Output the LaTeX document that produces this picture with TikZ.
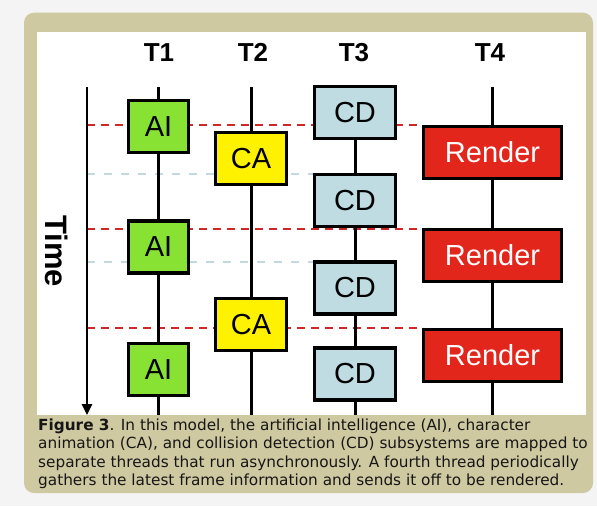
\documentclass[tikz,border=0pt]{standalone}
\usepackage{fontspec}
\setmainfont{Liberation Sans}
\newfontfamily\capfont{DejaVu Sans}
\usetikzlibrary{arrows.meta}
\definecolor{bgray}{HTML}{F4F4F4}
\definecolor{tanframe}{HTML}{CFC9A1}
\definecolor{aigreen}{HTML}{88E234}
\definecolor{cayellow}{HTML}{FFF200}
\definecolor{cdblue}{HTML}{BFDCE2}
\definecolor{renderred}{HTML}{E3261C}
\definecolor{reddash}{HTML}{D02626}
\definecolor{bluedash}{HTML}{C2D9DF}
\definecolor{captext}{HTML}{161616}
\begin{document}
\begin{tikzpicture}[x=1pt,y=-1pt,
  box/.style={draw=black, line width=3.4pt, inner sep=0pt, minimum height=52pt,
    font=\fontsize{29}{29}\selectfont},
  aibox/.style={box, fill=aigreen, minimum width=60pt},
  cabox/.style={box, fill=cayellow, minimum width=71pt},
  cdbox/.style={box, fill=cdblue, minimum width=81pt},
  renderbox/.style={box, fill=renderred, minimum width=138pt, text=white},
  thread/.style={line width=3pt, draw=black},
  reddashed/.style={draw=reddash, line width=2.7pt, dash pattern=on 8pt off 6pt},
  bluedashed/.style={draw=bluedash, line width=2.2pt, dash pattern=on 8pt off 9pt},
  tlabel/.style={anchor=base, inner sep=0pt, font=\bfseries\fontsize{26}{26}\selectfont},
  captionline/.style={anchor=base west, inner sep=0pt, text=captext,
    font=\capfont\fontsize{15.3}{15.3}\selectfont}
]
% background and frame
\fill[bgray] (0,0) rectangle (597,506);
\useasboundingbox (0,0) rectangle (597,506);
\fill[tanframe, rounded corners=10pt] (24,12.7) rectangle (593,493);
\fill[white] (37,32) rectangle (586,415);

% boxes (named; redrawn on top later)
\path
  (158.5,126.5) node[aibox] (ai1) {AI}
  (158.5,247)   node[aibox] (ai2) {AI}
  (158.5,369.5) node[aibox] (ai3) {AI}
  (251,158.5)   node[cabox] (ca1) {CA}
  (251,324.5)   node[cabox] (ca2) {CA}
  (355,112.5)   node[cdbox] (cd1) {CD}
  (355,200.5)   node[cdbox] (cd2) {CD}
  (355,288)     node[cdbox] (cd3) {CD}
  (355,374)     node[cdbox] (cd4) {CD}
  (492.5,152.5) node[renderbox] (r1) {Render}
  (492.5,255.5) node[renderbox] (r2) {Render}
  (492.5,355.5) node[renderbox] (r3) {Render};

% time axis coordinates
\coordinate (ta) at (87,87);
\coordinate (tb) at (87,415);
\coordinate (rd1) at (87,125);
\coordinate (rd2) at (87,229);
\coordinate (rd3) at (87,328);
\coordinate (bd1) at (87,174);
\coordinate (bd2) at (87,262);

% dashed sync lines
\draw[reddashed] (rd1) -- (rd1 -| r1.west);
\draw[reddashed] (rd2) -- (rd2 -| r2.west);
\draw[reddashed] (rd3) -- (rd3 -| r3.west);
\draw[bluedashed] (bd1) -- (bd1 -| cd2.west);
\draw[bluedashed] (bd2) -- (bd2 -| cd3.west);

% thread lines
\coordinate (t1a) at (158.5,87);  \coordinate (t1b) at (158.5,415);
\coordinate (t2a) at (251,87);    \coordinate (t2b) at (251,415);
\coordinate (t3b) at (355,415);
\coordinate (t4a) at (492.5,87);  \coordinate (t4b) at (492.5,415);
\draw[thread] (t1a) -- (ai1.north) (ai1.south) -- (ai2.north) (ai2.south) -- (ai3.north) (ai3.south) -- (t1b);
\draw[thread] (t2a) -- (ca1.north) (ca1.south) -- (ca2.north) (ca2.south) -- (t2b);
\draw[thread] (cd1.south) -- (cd2.north) (cd2.south) -- (cd3.north) (cd3.south) -- (cd4.north) (cd4.south) -- (t3b);
\draw[thread] (t4a) -- (r1.north) (r1.south) -- (r2.north) (r2.south) -- (r3.north) (r3.south) -- (t4b);

% boxes on top of dashed lines
\path
  (158.5,126.5) node[aibox] {AI}
  (158.5,247)   node[aibox] {AI}
  (158.5,369.5) node[aibox] {AI}
  (251,158.5)   node[cabox] {CA}
  (251,324.5)   node[cabox] {CA}
  (355,112.5)   node[cdbox] {CD}
  (355,200.5)   node[cdbox] {CD}
  (355,288)     node[cdbox] {CD}
  (355,374)     node[cdbox] {CD}
  (492.5,152.5) node[renderbox] {Render}
  (492.5,255.5) node[renderbox] {Render}
  (492.5,355.5) node[renderbox] {Render};

% time arrow
\draw[line width=2.6pt, -{Triangle[length=11pt,width=10pt]}] (ta) -- (tb);
\node[rotate=-90, anchor=base west, inner sep=0pt, font=\bfseries\fontsize{31}{31}\selectfont] (time) at (45,215) {Time};

% thread labels
\node[tlabel] (T1) at (159,61.5) {T1};
\node[tlabel] (T2) at (253,61.5) {T2};
\node[tlabel] (T3) at (354,61.5) {T3};
\node[tlabel] (T4) at (490,61.5) {T4};

% caption
\node[captionline] (c1) at (38,430) {\textbf{Figure 3}. In this model, the artificial intelligence (AI), character};
\node[captionline] (c2) at (38,448.5) {animation (CA), and collision detection (CD) subsystems are mapped to};
\node[captionline] (c3) at (38,467) {separate threads that run asynchronously. A fourth thread periodically};
\node[captionline] (c4) at (38,485.5) {gathers the latest frame information and sends it off to be rendered.};
\end{tikzpicture}
\end{document}
